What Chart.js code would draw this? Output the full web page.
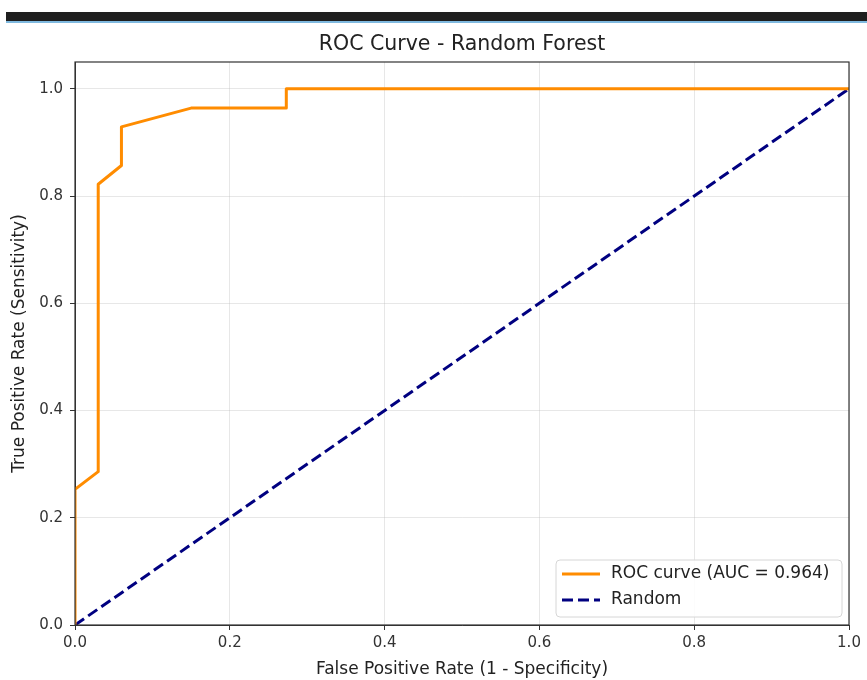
<!DOCTYPE html>
<html>
<head>
<meta charset="utf-8">
<script src="https://cdn.jsdelivr.net/npm/chart.js@4.4.1/dist/chart.umd.min.js"></script>
<style>
  html, body { margin: 0; padding: 0; background: #fff; }
  #bar { position: absolute; left: 6px; right: 0; top: 12px; height: 9px; background: #1f1f1f; border-bottom: 2px solid #7fb9df; }
  #roc { position: absolute; left: 0; top: 0; }
</style>
</head>
<body>
<div id="bar"></div>
<canvas id="roc" width="867" height="680"></canvas>
<script>
// ===== DATA =====
const rocFpr = [0, 0, 0.03, 0.03, 0.06, 0.06, 0.15, 0.273, 0.273, 1.0];
const rocTpr = [0, 0.253, 0.286, 0.822, 0.857, 0.929, 0.964, 0.964, 1.0, 1.0];
const randomFpr = [0, 1];
const randomTpr = [0, 1];
const xTicks = [0, 0.2, 0.4, 0.6, 0.8, 1.0];
const yTicks = [0, 0.2, 0.4, 0.6, 0.8, 1.0];
const aucLabel = 'ROC curve (AUC = 0.964)';
const chartTitle = 'ROC Curve - Random Forest';

Chart.defaults.font.family = "'DejaVu Sans', sans-serif";
Chart.defaults.color = '#333';

const toPoints = (xs, ys) => xs.map((x, i) => ({ x: x, y: ys[i] }));

// title centred over the plot area (matplotlib style)
const titlePlugin = {
  id: 'axTitle',
  afterDraw(chart) {
    const { ctx, chartArea } = chart;
    ctx.save();
    ctx.font = "20.5px 'DejaVu Sans'";
    ctx.fillStyle = '#222';
    ctx.textAlign = 'center';
    ctx.textBaseline = 'middle';
    ctx.fillText(chartTitle, (chartArea.left + chartArea.right) / 2, 45);
    ctx.restore();
  }
};

// full box around the axes
const framePlugin = {
  id: 'frame',
  afterDatasetsDraw(chart) {
    const { ctx, chartArea: a } = chart;
    ctx.save();
    ctx.strokeStyle = '#333';
    ctx.lineWidth = 1.2;
    ctx.strokeRect(a.left, a.top, a.right - a.left, a.bottom - a.top);
    ctx.restore();
  }
};

// legend in lower right corner of the plot
const legendPlugin = {
  id: 'lrLegend',
  afterDraw(chart) {
    const { ctx, chartArea: a } = chart;
    const w = 286, h = 57;
    const x0 = a.right - 7 - w, y0 = a.bottom - 8 - h;
    ctx.save();
    ctx.beginPath();
    ctx.roundRect(x0, y0, w, h, 4);
    ctx.fillStyle = 'rgba(255,255,255,0.85)';
    ctx.fill();
    ctx.strokeStyle = '#d6d6d6';
    ctx.lineWidth = 1;
    ctx.stroke();
    chart.data.datasets.forEach((ds, i) => {
      const y = y0 + 14 + i * 26;
      ctx.beginPath();
      ctx.setLineDash(ds.borderDash || []);
      ctx.strokeStyle = ds.borderColor;
      ctx.lineWidth = ds.borderWidth;
      ctx.moveTo(x0 + 6, y);
      ctx.lineTo(x0 + 44, y);
      ctx.stroke();
      ctx.setLineDash([]);
      ctx.font = "17px 'DejaVu Sans'";
      ctx.fillStyle = '#222';
      ctx.textBaseline = 'middle';
      ctx.textAlign = 'left';
      ctx.fillText(ds.label, x0 + 55, y);
    });
    ctx.restore();
  }
};

const gridColor = 'rgba(176,176,176,0.3)';

new Chart(document.getElementById('roc'), {
  type: 'scatter',
  data: {
    datasets: [{
      label: aucLabel,
      data: toPoints(rocFpr, rocTpr),
      showLine: true,
      borderColor: '#ff8c00',
      borderWidth: 3,
      borderJoinStyle: 'round',
      pointRadius: 0,
      tension: 0
    }, {
      label: 'Random',
      data: toPoints(randomFpr, randomTpr),
      showLine: true,
      borderColor: '#000080',
      borderWidth: 3,
      borderDash: [11, 5],
      pointRadius: 0,
      tension: 0
    }]
  },
  options: {
    responsive: false,
    devicePixelRatio: 1,
    animation: false,
    layout: { padding: { top: 62, right: 18, left: 0, bottom: 0 } },
    plugins: { legend: { display: false }, title: { display: false }, tooltip: { enabled: false } },
    scales: {
      x: {
        type: 'linear', min: 0, max: 1,
        afterBuildTicks: s => { s.ticks = xTicks.map(v => ({ value: v })); },
        afterFit: s => { s.height = 55; },
        ticks: { callback: v => v.toFixed(1), padding: 4, maxRotation: 0, font: { size: 15 }, color: '#333' },
        grid: { color: gridColor, tickColor: '#333', tickLength: 5 },
        border: { color: '#333' },
        title: { display: true, text: 'False Positive Rate (1 - Specificity)', font: { size: 17 }, color: '#222', padding: { top: 1, bottom: 0 } }
      },
      y: {
        type: 'linear', min: 0, max: 1.05,
        afterBuildTicks: s => { s.ticks = yTicks.map(v => ({ value: v })); },
        afterFit: s => { s.width = 75; },
        ticks: { callback: v => v.toFixed(1), padding: 7, font: { size: 15 }, color: '#333' },
        grid: { color: gridColor, tickColor: '#333', tickLength: 5 },
        border: { color: '#333' },
        title: { display: true, text: 'True Positive Rate (Sensitivity)', font: { size: 17 }, color: '#222', padding: { top: 9, bottom: 0 } }
      }
    }
  },
  plugins: [titlePlugin, framePlugin, legendPlugin]
});
</script>
</body>
</html>
